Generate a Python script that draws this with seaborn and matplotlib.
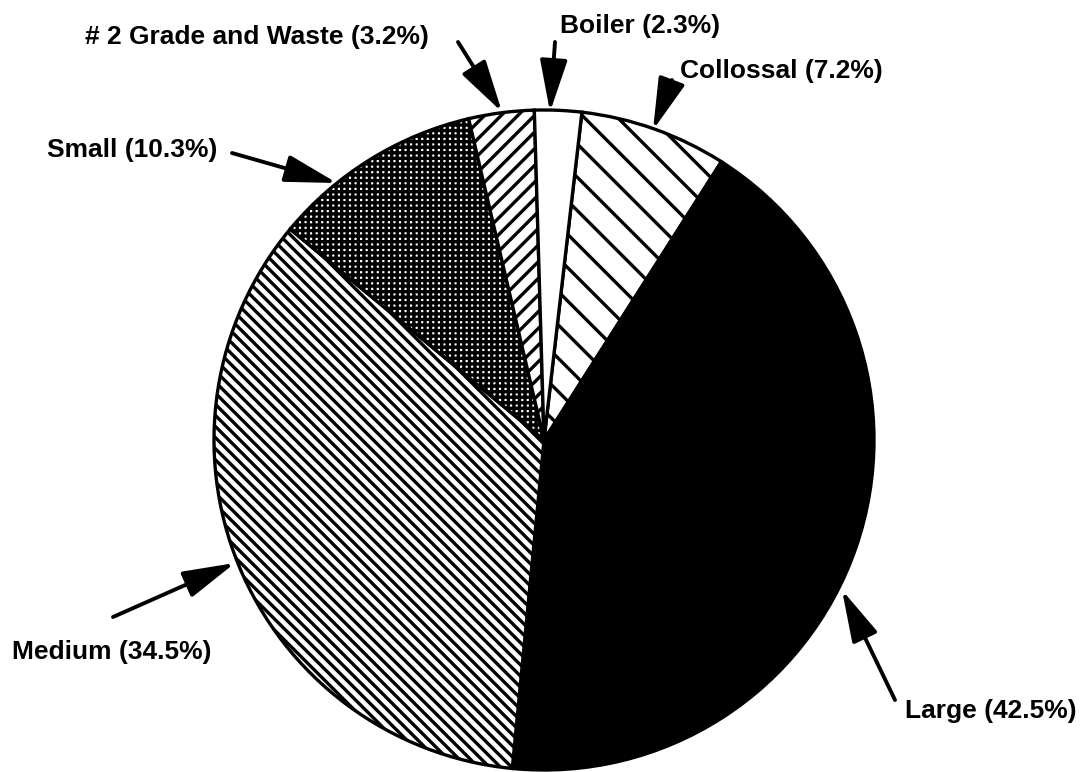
import matplotlib
matplotlib.use("Agg")
import matplotlib.pyplot as plt
import seaborn as sns

# -----------------------------------------------------
# DATA
# -----------------------------------------------------

grades = ["Collossal", "Large", "Medium", "Small", "# 2 Grade and Waste", "Boiler"]
shares = [7.2, 42.5, 34.5, 10.3, 3.2, 2.3]

# fill style of each wedge (scanned b/w look)
face_colors = ["white", "black", "white", "white", "white", "white"]
hatches = ["\\", "", "\\\\\\", "+++", "//", ""]

# label anchor (left x, centre y) and arrow (start -> tip), in pixels from top-left
label_pos = [(680, 71), (905, 711), (12, 652), (47, 150), (85, 37), (560, 26)]
arrow_from = [(672, 80), (895, 700), (113, 617), (232, 153), (458, 42), (555, 42)]
arrow_to = [(653, 130), (842, 590), (235, 563), (337, 183), (502, 112), (550, 112)]

# -----------------------------------------------------
# STYLE
# -----------------------------------------------------

sns.set_style("white")
plt.rcParams["font.family"] = ["Liberation Sans", "DejaVu Sans"]
plt.rcParams["hatch.linewidth"] = 2.4

W, H = 1086, 772

fig = plt.figure(figsize=(W / 100, H / 100), dpi=100)
ax = fig.add_axes([0, 0, 1, 1])

# -----------------------------------------------------
# PIE
# -----------------------------------------------------

wedges, _ = ax.pie(
    shares,
    colors=face_colors,
    hatch=hatches,
    startangle=83.4,
    counterclock=False,
    center=(544, H - 440),
    radius=330,
    wedgeprops=dict(edgecolor="black", linewidth=2.4),
)

# -----------------------------------------------------
# LABELS + ARROWS
# -----------------------------------------------------

for name, pct, (lx, ly), (sx, sy), (tx, ty) in zip(grades, shares, label_pos, arrow_from, arrow_to):
    ax.text(lx, H - ly, f"{name} ({pct}%)", fontsize=19, fontweight="bold",
            ha="left", va="center", color="black")
    ax.annotate(
        "",
        xy=(tx, H - ty),
        xytext=(sx, H - sy),
        arrowprops=dict(
            arrowstyle="-|>,head_length=1.6,head_width=0.42",
            color="black",
            lw=2.8,
            mutation_scale=20,
            shrinkA=0,
            shrinkB=0,
        ),
    )

ax.set_aspect("auto")
ax.set_xlim(0, W)
ax.set_ylim(0, H)
ax.axis("off")

plt.savefig("out.png", dpi=100, facecolor="white")
plt.close()
